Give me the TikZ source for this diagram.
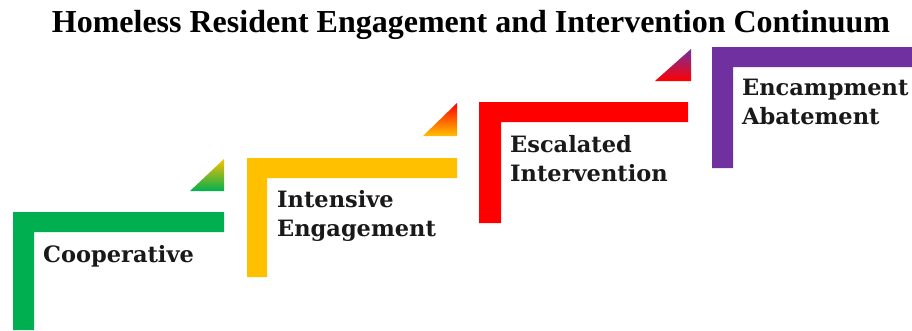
\documentclass[tikz,border=0pt]{standalone}
\usepackage{fontspec}
\setmainfont{Liberation Serif}
\newfontfamily\stepfont{DejaVu Serif}
\definecolor{cgreen}{HTML}{00B050}
\definecolor{cyellow}{HTML}{FFC000}
\definecolor{cred}{HTML}{FF0000}
\definecolor{cpurple}{HTML}{7030A0}
\begin{document}
\begin{tikzpicture}[x=1pt,y=-1pt,
  steplabel/.style={anchor=base west, inner sep=0pt, font=\stepfont\bfseries\fontsize{22.5}{29}\selectfont, text=black!90, align=left},
  titlelabel/.style={inner sep=0pt, font=\bfseries\fontsize{32}{38}\selectfont}]
\useasboundingbox (0,0) rectangle (912,330);
\fill[white] (0,0) rectangle (912,330);
% title
\node[titlelabel, anchor=base] (title) at (471,32) {Homeless Resident Engagement and Intervention Continuum};
% steps
\fill[cgreen] (13,212) -- (224,212) -- (224,232) -- (34,232) -- (34,330) -- (13,330) -- cycle;
\fill[cyellow] (247,158) -- (457,158) -- (457,178) -- (267,178) -- (267,277) -- (247,277) -- cycle;
\fill[cred] (479,102) -- (688,102) -- (688,122) -- (501,122) -- (501,223) -- (479,223) -- cycle;
\fill[cpurple] (712,47) -- (912,47) -- (912,67) -- (733,67) -- (733,168) -- (712,168) -- cycle;
% triangles
\shade[top color=cyellow, middle color=cgreen!80!cyellow, bottom color=cgreen] (190,191) -- (224,159) -- (224,191) -- cycle;
\shade[top color=cred, middle color=cyellow!80!cred, bottom color=cyellow] (423,136) -- (457,103) -- (457,136) -- cycle;
\shade[top color=cpurple, middle color=cred!80!cpurple, bottom color=cred] (655,81) -- (691,49) -- (691,81) -- cycle;
% labels
\node[steplabel] (coop) at (43,262) {Cooperative};
\node[steplabel] (intens) at (277,236) {Intensive\\Engagement};
\node[steplabel] (escal) at (510,181) {Escalated\\Intervention};
\node[steplabel] (encamp) at (742,124) {Encampment\\Abatement};
\end{tikzpicture}
\end{document}
